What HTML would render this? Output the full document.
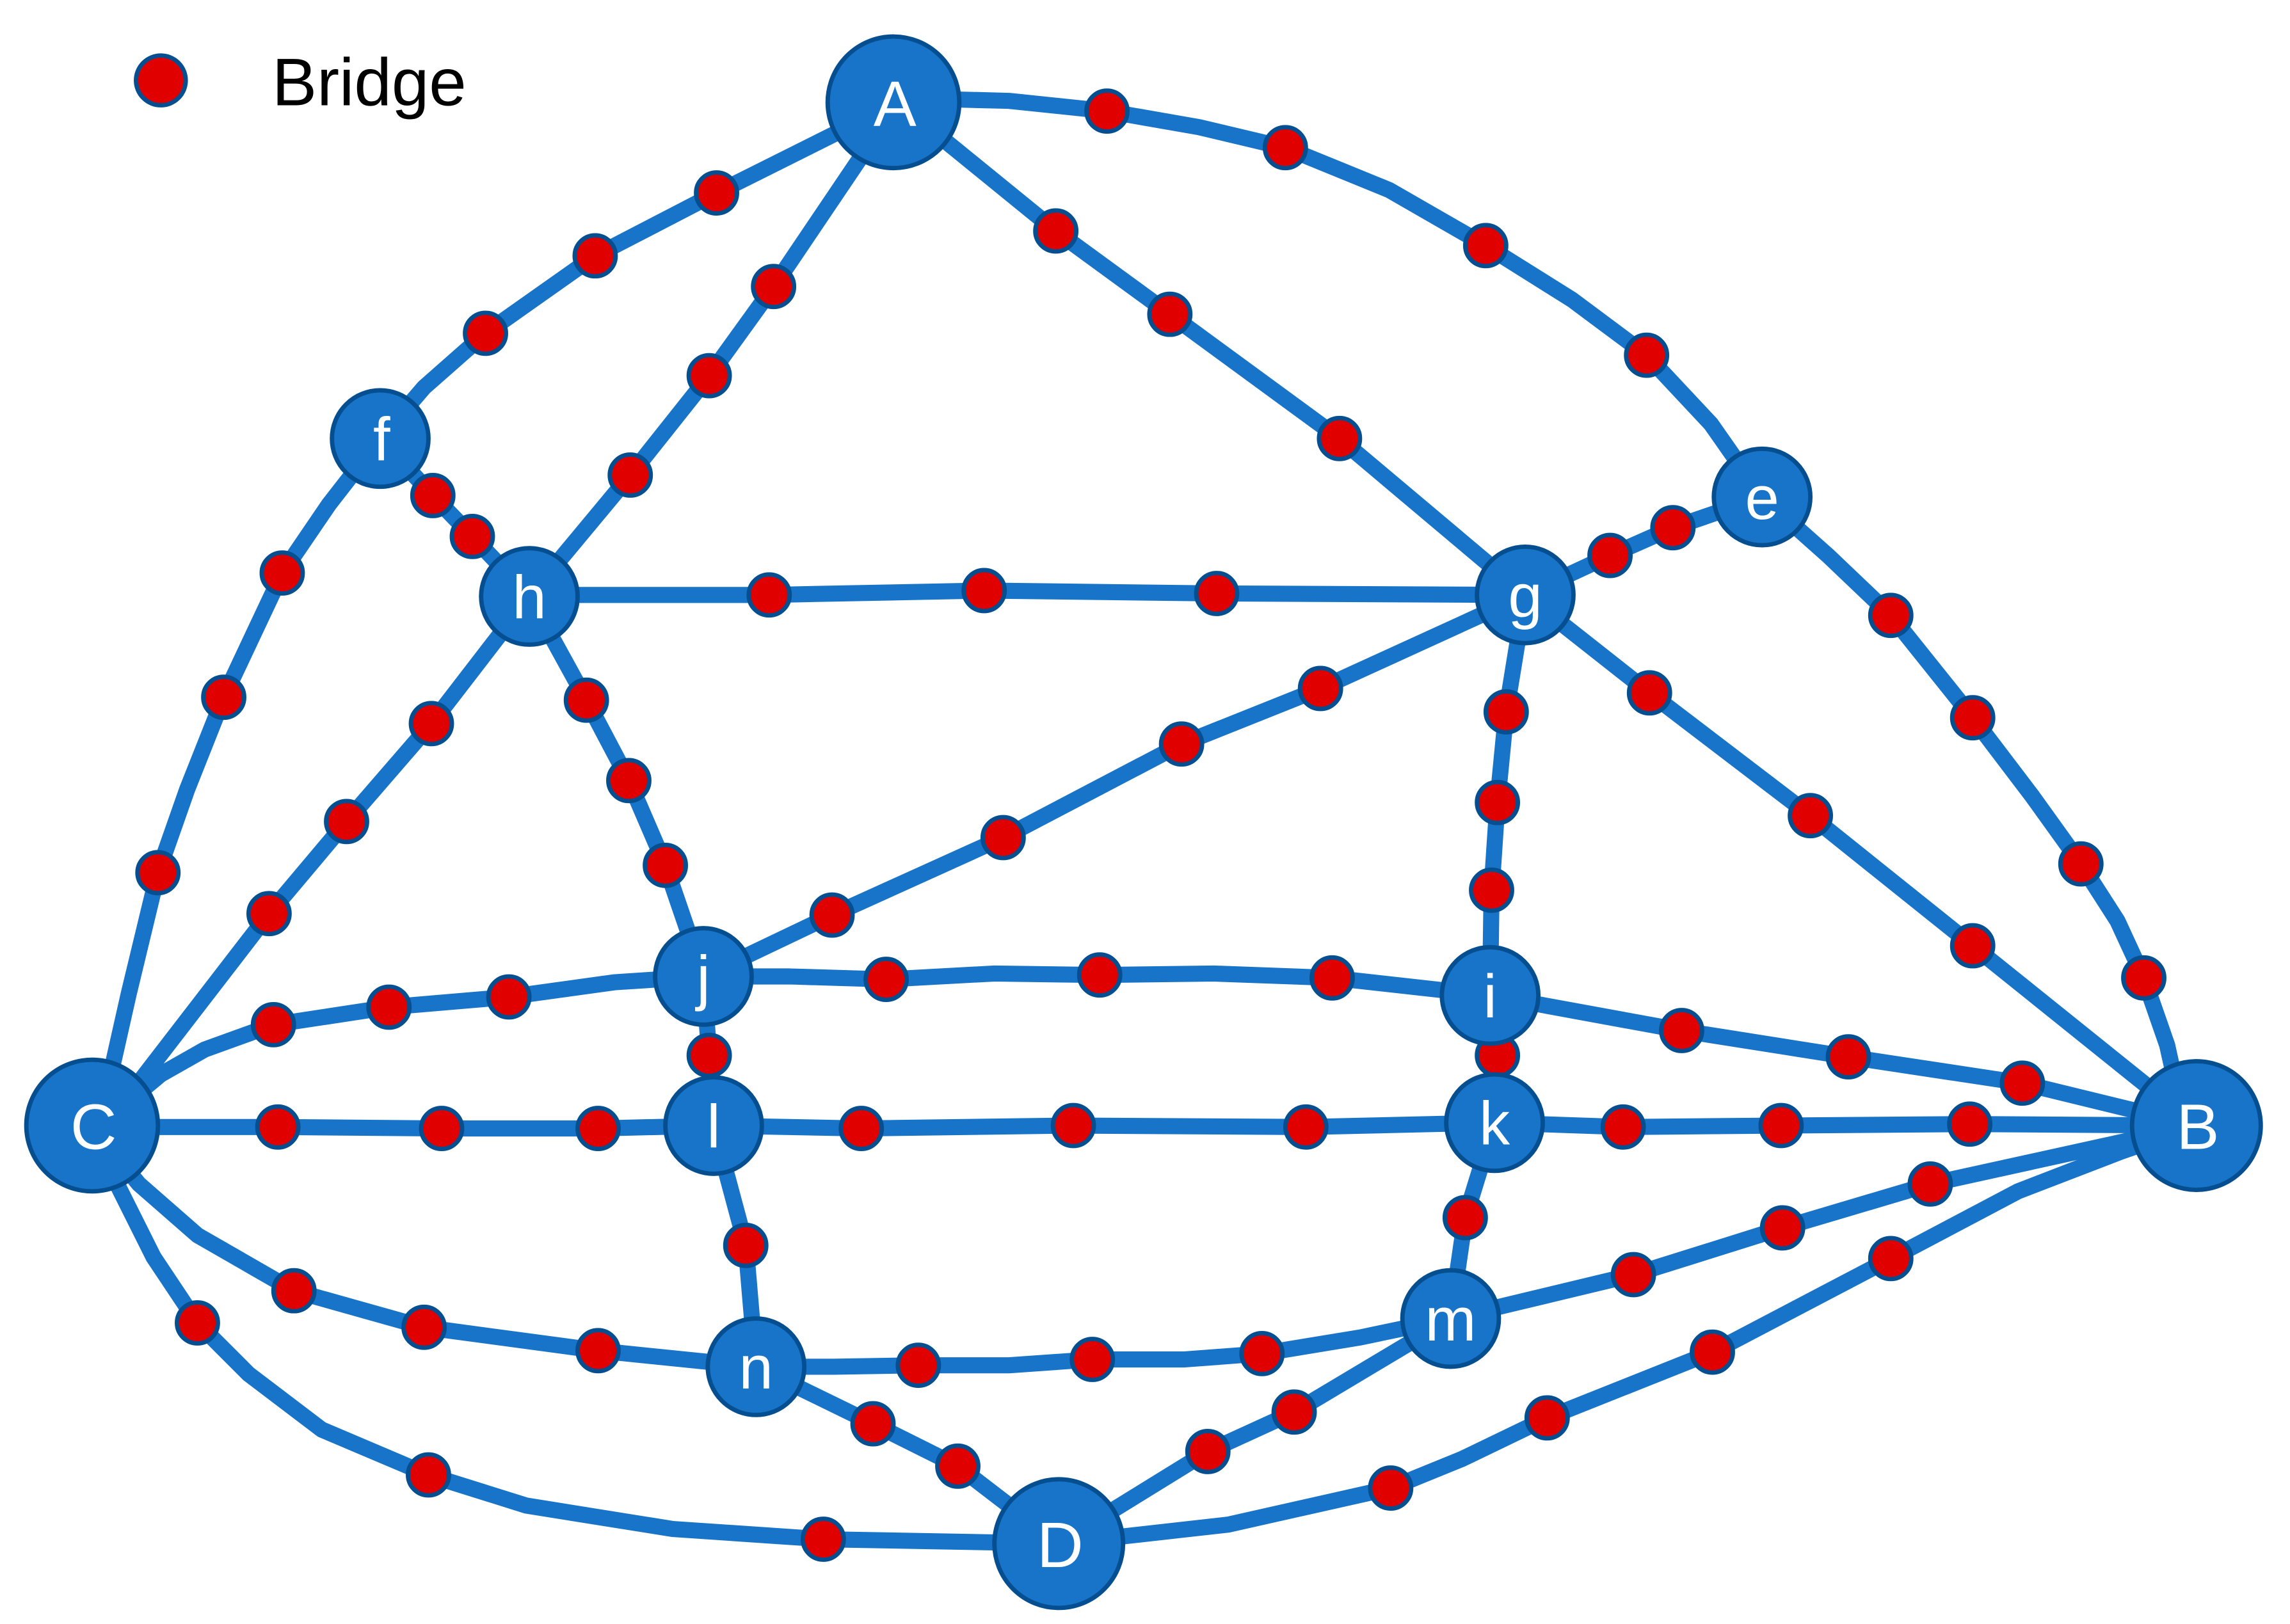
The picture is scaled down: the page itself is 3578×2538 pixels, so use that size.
<!DOCTYPE html>
<html><head><meta charset="utf-8"><style>html,body{margin:0;padding:0;background:#fff}svg{display:block}</style></head>
<body>
<svg width="3578" height="2538" viewBox="0 0 1566 1111" preserveAspectRatio="none" xmlns="http://www.w3.org/2000/svg">
<g fill="none" stroke="#1874C8" stroke-width="11" stroke-linejoin="round" stroke-linecap="round">
<polyline points="614,67 690,69 757,76 820,87 879,101 950,130 1016,168 1075,205 1126,243 1170,290 1205,340"/>
<polyline points="1205,340 1250,380 1293,421 1349,491 1390,545 1423,591 1448,630 1466,669 1482,715 1492,760"/>
<polyline points="614,70 550,102 490,132 407,175 332,228 290,265 260,300"/>
<polyline points="260,300 225,345 193,392 153,477 128,540 108,597 88,680 70,760"/>
<polyline points="614,70 529,196 485,257 431,325 362,408"/>
<polyline points="614,70 722,158 800,215 916,300 1043,407"/>
<polyline points="260,300 296,339 323,367 362,408"/>
<polyline points="362,407 526,407 673,404 832,406 1043,407"/>
<polyline points="1205,340 1144,361 1101,380 1043,407"/>
<polyline points="362,408 295,495 237,562 184,625 80,760"/>
<polyline points="362,408 401,479 430,534 455,592 481,668"/>
<polyline points="1043,407 903,471 808,509 686,573 569,626 481,668"/>
<polyline points="1043,407 1030,487 1024,549 1020,609 1019,681"/>
<polyline points="1043,407 1128,474 1238,558 1349,647 1502,770"/>
<polyline points="80,760 110,735 140,718 187,701 266,689 348,682 420,672 481,668"/>
<polyline points="481,668 540,668 606,670 680,666 752,667 830,666 911,669 1019,681"/>
<polyline points="1019,681 1150,705 1264,723 1383,741 1502,770"/>
<polyline points="481,668 485,722 488,770"/>
<polyline points="1019,681 1024,722 1022,768"/>
<polyline points="63,771 190,771 302,772 409,772 488,770"/>
<polyline points="488,770 589,772 734,770 893,771 1022,768"/>
<polyline points="1022,768 1110,771 1218,770 1347,769 1502,770"/>
<polyline points="1022,768 1002,833 992,902"/>
<polyline points="488,770 510,852 517,935"/>
<polyline points="63,771 95,810 135,845 201,883 290,908 409,924 517,935"/>
<polyline points="517,935 570,935 628,934 690,934 747,930 810,930 863,926 930,915 992,902"/>
<polyline points="992,902 1117,872 1219,840 1320,810 1502,770"/>
<polyline points="63,771 80,810 105,860 135,905 170,940 220,978 293,1009 360,1030 460,1046 563,1053 724,1056"/>
<polyline points="517,935 597,974 655,1003 724,1056"/>
<polyline points="724,1056 826,993 885,966 992,902"/>
<polyline points="724,1056 840,1043 951,1018 1000,998 1058,970 1171,925 1293,861 1380,815 1450,788 1502,770"/>
</g>
<g fill="#E00000" stroke="#054F91" stroke-width="3">
<circle cx="110" cy="55" r="17"/>
<circle cx="757" cy="76" r="14"/><circle cx="879" cy="101" r="14"/><circle cx="1016" cy="168" r="14"/><circle cx="1126" cy="243" r="14"/>
<circle cx="1293" cy="421" r="14"/><circle cx="1349" cy="491" r="14"/><circle cx="1423" cy="591" r="14"/><circle cx="1466" cy="669" r="14"/>
<circle cx="490" cy="132" r="14"/><circle cx="407" cy="175" r="14"/><circle cx="332" cy="228" r="14"/>
<circle cx="193" cy="392" r="14"/><circle cx="153" cy="477" r="14"/><circle cx="108" cy="597" r="14"/>
<circle cx="529" cy="196" r="14"/><circle cx="485" cy="257" r="14"/><circle cx="431" cy="325" r="14"/>
<circle cx="722" cy="158" r="14"/><circle cx="800" cy="215" r="14"/><circle cx="916" cy="300" r="14"/>
<circle cx="296" cy="339" r="14"/><circle cx="323" cy="367" r="14"/>
<circle cx="526" cy="407" r="14"/><circle cx="673" cy="404" r="14"/><circle cx="832" cy="406" r="14"/>
<circle cx="1144" cy="361" r="14"/><circle cx="1101" cy="380" r="14"/>
<circle cx="295" cy="495" r="14"/><circle cx="237" cy="562" r="14"/><circle cx="184" cy="625" r="14"/>
<circle cx="401" cy="479" r="14"/><circle cx="430" cy="534" r="14"/><circle cx="455" cy="592" r="14"/>
<circle cx="903" cy="471" r="14"/><circle cx="808" cy="509" r="14"/><circle cx="686" cy="573" r="14"/><circle cx="569" cy="626" r="14"/>
<circle cx="1030" cy="487" r="14"/><circle cx="1024" cy="549" r="14"/><circle cx="1020" cy="609" r="14"/>
<circle cx="1128" cy="474" r="14"/><circle cx="1238" cy="558" r="14"/><circle cx="1349" cy="647" r="14"/>
<circle cx="187" cy="701" r="14"/><circle cx="266" cy="689" r="14"/><circle cx="348" cy="682" r="14"/>
<circle cx="606" cy="670" r="14"/><circle cx="752" cy="667" r="14"/><circle cx="911" cy="669" r="14"/>
<circle cx="1150" cy="705" r="14"/><circle cx="1264" cy="723" r="14"/><circle cx="1383" cy="741" r="14"/>
<circle cx="485" cy="722" r="14"/><circle cx="1024" cy="722" r="14"/>
<circle cx="190" cy="771" r="14"/><circle cx="302" cy="772" r="14"/><circle cx="409" cy="772" r="14"/>
<circle cx="589" cy="772" r="14"/><circle cx="734" cy="770" r="14"/><circle cx="893" cy="771" r="14"/>
<circle cx="1110" cy="771" r="14"/><circle cx="1218" cy="770" r="14"/><circle cx="1347" cy="769" r="14"/>
<circle cx="1002" cy="833" r="14"/><circle cx="510" cy="852" r="14"/>
<circle cx="201" cy="883" r="14"/><circle cx="290" cy="908" r="14"/><circle cx="409" cy="924" r="14"/>
<circle cx="628" cy="934" r="14"/><circle cx="747" cy="930" r="14"/><circle cx="863" cy="926" r="14"/>
<circle cx="1117" cy="872" r="14"/><circle cx="1219" cy="840" r="14"/><circle cx="1320" cy="810" r="14"/>
<circle cx="135" cy="905" r="14"/><circle cx="293" cy="1009" r="14"/><circle cx="563" cy="1053" r="14"/>
<circle cx="597" cy="974" r="14"/><circle cx="655" cy="1003" r="14"/>
<circle cx="826" cy="993" r="14"/><circle cx="885" cy="966" r="14"/>
<circle cx="951" cy="1018" r="14"/><circle cx="1058" cy="970" r="14"/><circle cx="1171" cy="925" r="14"/><circle cx="1293" cy="861" r="14"/>
</g>
<g fill="#1874C8" stroke="#054F91" stroke-width="3">
<circle cx="611" cy="70" r="45"/><circle cx="1502" cy="770" r="44"/><circle cx="63" cy="770" r="45"/><circle cx="724" cy="1056" r="44"/>
<circle cx="1205" cy="340" r="33"/><circle cx="260" cy="300" r="33"/><circle cx="1043" cy="407" r="33"/><circle cx="362" cy="408" r="33"/>
<circle cx="1019" cy="681" r="33"/><circle cx="481" cy="668" r="33"/><circle cx="1022" cy="768" r="33"/><circle cx="488" cy="770" r="33"/>
<circle cx="992" cy="902" r="33"/><circle cx="517" cy="935" r="33"/>
</g>
<g fill="#fff" font-family="Liberation Sans, sans-serif" text-anchor="middle" font-size="44">
<text x="612" y="86">A</text><text x="1503" y="786">B</text><text x="64" y="786">C</text><text x="725" y="1072">D</text>
<g font-size="42"><text x="1205" y="355">e</text><text x="261" y="315">f</text><text x="1043" y="422">g</text><text x="362" y="423">h</text>
<text x="1019" y="696">i</text><text x="481" y="683">j</text><text x="1022" y="783">k</text><text x="488" y="785">l</text>
<text x="992" y="917">m</text><text x="517" y="950">n</text></g>
</g>
<text x="186" y="72" font-family="Liberation Sans, sans-serif" font-size="46" fill="#000">Bridge</text>
</svg>
</body></html>
